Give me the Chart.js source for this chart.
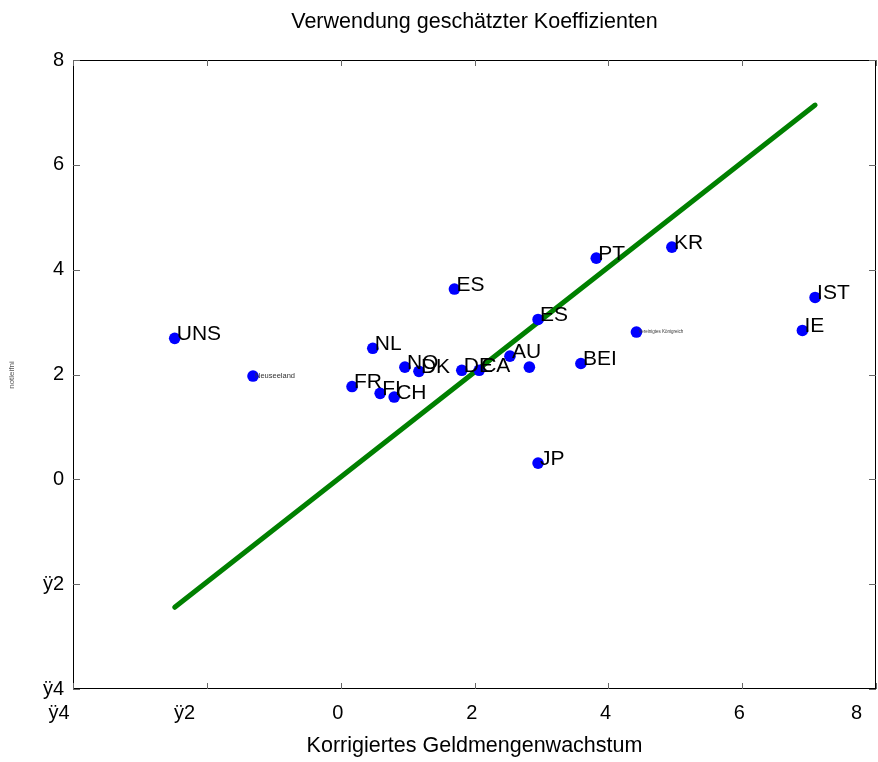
<!DOCTYPE html>
<html>
<head>
<meta charset="utf-8">
<script src="https://cdn.jsdelivr.net/npm/chart.js@4.4.0/dist/chart.umd.min.js"></script>
<style>
  html, body { margin: 0; padding: 0; background: #fff; }
  #wrap { width: 878px; height: 762px; position: relative; }
</style>
</head>
<body>
<div id="wrap"><canvas id="chart"></canvas></div>
<script>
// Datenpunkte
const countries = ['UNS', 'Neuseeland', 'FR', 'NL', 'FI', 'CH', 'NO', 'DK', 'DE', 'CA', 'AU', '', 'ES', 'ES', 'PT', 'KR', 'JP', 'BEI', 'Vereinigtes Königreich', 'IE', 'IST'];
const moneyGrowth = [-2.48, -1.31, 0.17, 0.48, 0.59, 0.80, 0.96, 1.17, 1.81, 2.07, 2.53, 2.82, 1.70, 2.95, 3.82, 4.95, 2.95, 3.59, 4.42, 6.90, 7.09];
const inflation = [2.69, 1.97, 1.77, 2.50, 1.64, 1.57, 2.14, 2.06, 2.08, 2.08, 2.35, 2.14, 3.63, 3.05, 4.22, 4.43, 0.31, 2.21, 2.81, 2.84, 3.47];
const fitX = [-2.48, 7.09];
const fitY = [-2.44, 7.14];
const tickValues = [-4, -2, 0, 2, 4, 6, 8];

const FONT = '"Liberation Sans", Arial, sans-serif';
const smallLabels = { 'Neuseeland': 7.5, 'Vereinigtes Königreich': 4.5 };
const xLabelShift = { '-4': 5, '-2': 8, '8': 7 }; // nbsp am Ende, wie im Original nach links versetzt

const minus = v => String(v).replace('-', 'ÿ');

const frame = {
  id: 'frame',
  afterDatasetsDraw(chart) {
    const { ctx, scales: { x, y } } = chart;
    ctx.save();
    // Beschriftung der Punkte
    ctx.textAlign = 'left';
    ctx.textBaseline = 'middle';
    countries.forEach((c, i) => {
      if (!c) return;
      const px = x.getPixelForValue(moneyGrowth[i]);
      const py = y.getPixelForValue(inflation[i]);
      const size = smallLabels[c];
      ctx.font = (size || 21) + 'px ' + FONT;
      ctx.fillStyle = size ? '#333' : '#000';
      ctx.fillText(c, px + 2, size ? py : py - 4);
    });
    ctx.restore();
  },
  afterDraw(chart) {
    const { ctx, chartArea: a, scales: { x, y } } = chart;
    ctx.save();
    // Rahmen
    ctx.strokeStyle = '#000';
    ctx.lineWidth = 1;
    ctx.strokeRect(a.left + 0.5, a.top + 0.5, a.right - a.left - 1, a.bottom - a.top - 1);
    // Ticks nach innen
    ctx.strokeStyle = '#666';
    ctx.beginPath();
    tickValues.forEach(v => {
      const px = Math.round(x.getPixelForValue(v)) + 0.5;
      ctx.moveTo(px, a.bottom); ctx.lineTo(px, a.bottom - 6);
      ctx.moveTo(px, a.top); ctx.lineTo(px, a.top + 6);
      const py = Math.round(y.getPixelForValue(v)) + 0.5;
      ctx.moveTo(a.left, py); ctx.lineTo(a.left + 7, py);
      ctx.moveTo(a.right, py); ctx.lineTo(a.right - 7, py);
    });
    ctx.stroke();
    // Titel
    ctx.fillStyle = '#000';
    ctx.textAlign = 'center';
    ctx.textBaseline = 'middle';
    ctx.font = '21.5px ' + FONT;
    const cx = (a.left + a.right) / 2;
    ctx.fillText('Verwendung geschätzter Koeffizienten', cx, 22);
    ctx.fillText('Korrigiertes Geldmengenwachstum', cx, 746);
    ctx.translate(12, 375);
    ctx.rotate(-Math.PI / 2);
    ctx.font = '8px ' + FONT;
    ctx.fillStyle = '#555';
    ctx.fillText('notleifni', 0, 0);
    ctx.restore();
  }
};

new Chart(document.getElementById('chart'), {
  type: 'scatter',
  data: {
    datasets: [
      {
        label: 'Länder',
        data: moneyGrowth.map((v, i) => ({ x: v, y: inflation[i] })),
        backgroundColor: '#0000ff',
        borderWidth: 0,
        pointRadius: 5.8,
        order: 0
      },
      {
        type: 'line',
        label: 'Schätzung',
        data: fitX.map((v, i) => ({ x: v, y: fitY[i] })),
        borderColor: '#008000',
        borderWidth: 5,
        borderCapStyle: 'round',
        pointRadius: 0,
        fill: false,
        order: 1
      }
    ]
  },
  options: {
    responsive: true,
    maintainAspectRatio: false,
    animation: false,
    layout: { autoPadding: false, padding: { top: 60, right: 2, left: 0, bottom: 0 } },
    plugins: { legend: { display: false }, tooltip: { enabled: false } },
    scales: {
      x: {
        type: 'linear',
        min: -4, max: 8,
        afterBuildTicks: s => { s.ticks = tickValues.map(v => ({ value: v })); },
        afterFit: s => { s.height = 73; s.paddingLeft = 0; s.paddingRight = 0; },
        grid: { display: false, drawTicks: false },
        border: { display: false },
        ticks: {
          padding: 12,
          color: '#000',
          font: { family: FONT, size: 20 },
          maxRotation: 0,
          autoSkip: false,
          callback: v => minus(v) + '\u00a0'.repeat(xLabelShift[v] || 1)
        }
      },
      y: {
        type: 'linear',
        min: -4, max: 8,
        afterBuildTicks: s => { s.ticks = tickValues.map(v => ({ value: v })); },
        afterFit: s => { s.width = 73; },
        grid: { display: false, drawTicks: false },
        border: { display: false },
        ticks: {
          padding: 9,
          color: '#000',
          font: { family: FONT, size: 20 },
          autoSkip: false,
          callback: v => minus(v)
        }
      }
    }
  },
  plugins: [frame]
});
</script>
</body>
</html>
